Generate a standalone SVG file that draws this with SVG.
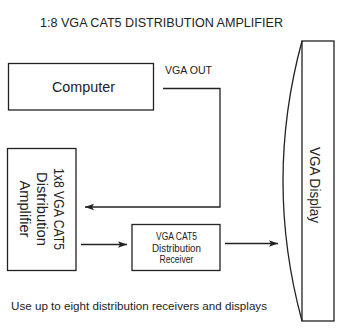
<svg xmlns="http://www.w3.org/2000/svg" width="347" height="330" viewBox="0 0 347 330">
<style>
.box{fill:#fff;stroke:#222;stroke-width:1.3}
.ln{fill:none;stroke:#222;stroke-width:1.3}
text{font-family:"Liberation Sans","DejaVu Sans",sans-serif;fill:#222}
.c{text-anchor:middle}
</style>
<defs>
<marker id="ah" markerUnits="userSpaceOnUse" markerWidth="10" markerHeight="8" refX="9" refY="4" orient="auto">
<path d="M0,0.8 L9,4 L0,7.2 L2,4 Z" fill="#222"/>
</marker>
</defs>
<rect width="347" height="330" fill="#fff"/>
<text x="40" y="27" font-size="12.5" textLength="243" lengthAdjust="spacingAndGlyphs">1:8 VGA CAT5 DISTRIBUTION AMPLIFIER</text>
<g id="computer">
<rect class="box" x="8.5" y="63.5" width="145" height="46.5"/>
<text class="c" x="83.5" y="92" font-size="15" textLength="63" lengthAdjust="spacingAndGlyphs">Computer</text>
</g>
<g id="amplifier">
<rect class="box" x="7.5" y="148.5" width="68.5" height="122"/>
<g transform="translate(54,209) rotate(90)">
<text class="c" x="0" y="0" font-size="14" textLength="82" lengthAdjust="spacingAndGlyphs">1x8 VGA CAT5</text>
<text class="c" x="0" y="17" font-size="14" textLength="74" lengthAdjust="spacingAndGlyphs">Distribution</text>
<text class="c" x="0" y="34" font-size="14" textLength="57" lengthAdjust="spacingAndGlyphs">Amplifier</text>
</g>
</g>
<g id="receiver">
<rect class="box" x="132" y="224.5" width="88" height="46"/>
<text class="c" x="176.5" y="240" font-size="10" textLength="41" lengthAdjust="spacingAndGlyphs">VGA CAT5</text>
<text class="c" x="176.5" y="251.5" font-size="10" textLength="49" lengthAdjust="spacingAndGlyphs">Distribution</text>
<text class="c" x="176.5" y="263" font-size="10" textLength="34" lengthAdjust="spacingAndGlyphs">Receiver</text>
</g>
<g id="display">
<rect class="box" x="302" y="41" width="32" height="280"/>
<path class="ln" d="M302,41 Q264,181 302,321"/>
<text class="c" transform="translate(310,185) rotate(90)" x="0" y="0" font-size="14" textLength="76" lengthAdjust="spacingAndGlyphs">VGA Display</text>
</g>
<g id="connectors">
<path class="ln" d="M163,88.5 H220 V207 H85" marker-end="url(#ah)"/>
<path class="ln" d="M81,244.5 H127" marker-end="url(#ah)"/>
<path class="ln" d="M225,243.5 H278" marker-end="url(#ah)"/>
<text x="165" y="74" font-size="10.5" textLength="47" lengthAdjust="spacingAndGlyphs">VGA OUT</text>
</g>
<text x="11" y="310" font-size="10.5" textLength="256" lengthAdjust="spacingAndGlyphs">Use up to eight distribution receivers and displays</text>
</svg>
